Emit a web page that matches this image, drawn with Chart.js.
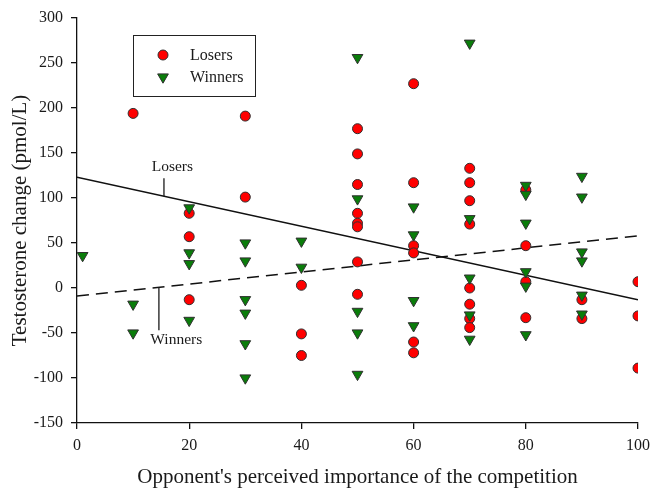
<!DOCTYPE html>
<html>
<head>
<meta charset="utf-8">
<script src="https://cdn.jsdelivr.net/npm/chart.js@4/dist/chart.umd.min.js"></script>
<style>
  html, body { margin: 0; padding: 0; background: #fff; }
  #wrap { width: 660px; height: 490px; }
</style>
</head>
<body>
<div id="wrap"><canvas id="c" width="660" height="490"></canvas></div>
<script>
// ── data ──
const loserX = [10, 20, 20, 20, 30, 30, 40, 40, 40,
  50, 50, 50, 50, 50, 50, 50, 50,
  60, 60, 60, 60, 60, 60,
  70, 70, 70, 70, 70, 70, 70, 70,
  80, 80, 80, 80, 90, 90, 100, 100, 100];
const loserY = [194, 83, 57, -13, 191, 101, 3, -51, -75,
  177, 149, 115, 83, 72, 68, 29, -7,
  227, 117, 47, 39, -60, -72,
  133, 117, 97, 71, 0, -18, -34, -44,
  109, 47, 7, -33, -13, -34, 7, -31, -89];

const winnerX = [1, 10, 10, 20, 20, 20, 20,
  30, 30, 30, 30, 30, 30, 40, 40,
  50, 50, 50, 50, 50, 60, 60, 60, 60,
  70, 70, 70, 70, 70,
  80, 80, 80, 80, 80, 80,
  90, 90, 90, 90, 90, 90];
const winnerY = [36, -18, -50, 89, 39, 27, -36,
  50, 30, -13, -28, -62, -100, 52, 23,
  256, 99, -26, -50, -96, 90, 59, -14, -42,
  272, 77, 11, -30, -57,
  114, 104, 72, 18, 2, -52,
  124, 101, 40, 30, -8, -29];

// regression line end points (x = 0 and x = 100)
const fitX = [0, 100];
const loserFit = [123, -13];
const winnerFit = [-9, 58];

// in-plot line labels: text, label position, leader x, leader y range
const lineLabels = ["Losers", "Winners"];
const labelX = [17, 17.7];
const labelY = [134, -58];
const leaderX = [15.5, 14.6];
const leaderFrom = [122, 1];
const leaderTo = [102, -47];

const seriesNames = ["Losers", "Winners"];

const xTicks = [0, 20, 40, 60, 80, 100];
const yTicks = [-150, -100, -50, 0, 50, 100, 150, 200, 250, 300];

const serif = "'Liberation Serif', 'Times New Roman', serif";
const red = "#ff0000";
const green = "#0a7d0a";
const edge = "#303030";

const pts = (xs, ys) => xs.map((x, i) => ({ x, y: ys[i] }));

// legend box + line labels drawn on top of the chart
const overlay = {
  id: "overlay",
  afterDraw(chart) {
    const { ctx, scales: { x, y } } = chart;
    ctx.save();
    ctx.fillStyle = "#1a1a1a";
    ctx.strokeStyle = "#1a1a1a";
    ctx.lineWidth = 1.3;
    ctx.font = "15.5px " + serif;
    ctx.textAlign = "center";
    ctx.textBaseline = "middle";
    lineLabels.forEach((t, i) => {
      ctx.fillText(t, x.getPixelForValue(labelX[i]), y.getPixelForValue(labelY[i]));
      ctx.beginPath();
      ctx.moveTo(x.getPixelForValue(leaderX[i]), y.getPixelForValue(leaderFrom[i]));
      ctx.lineTo(x.getPixelForValue(leaderX[i]), y.getPixelForValue(leaderTo[i]));
      ctx.stroke();
    });

    // legend
    ctx.lineWidth = 1;
    ctx.strokeStyle = "#222";
    ctx.strokeRect(133.5, 35.5, 122, 61);
    ctx.textAlign = "left";
    ctx.font = "16px " + serif;
    const rows = [55, 77];
    seriesNames.forEach((name, i) => {
      const ds = chart.data.datasets[i];
      ctx.fillStyle = ds.backgroundColor;
      ctx.strokeStyle = edge;
      ctx.lineWidth = 1;
      Chart.helpers.drawPoint(ctx, {
        pointStyle: ds.pointStyle,
        rotation: ds.rotation || 0,
        radius: ds.pointRadius,
        borderWidth: 1,
      }, 163, rows[i]);
      ctx.fillStyle = "#1a1a1a";
      ctx.fillText(name, 190, rows[i] + 1);
    });
    ctx.restore();
  },
};

new Chart(document.getElementById("c"), {
  type: "scatter",
  data: {
    datasets: [
      {
        label: seriesNames[0],
        data: pts(loserX, loserY),
        pointStyle: "circle",
        pointRadius: 5,
        backgroundColor: red,
        borderColor: edge,
        borderWidth: 1,
        order: 1,
      },
      {
        label: seriesNames[1],
        data: pts(winnerX, winnerY),
        pointStyle: "triangle",
        rotation: 180,
        pointRadius: 6.2,
        backgroundColor: green,
        borderColor: edge,
        borderWidth: 1,
        order: 0,
      },
      {
        label: "Losers fit",
        data: pts(fitX, loserFit),
        showLine: true,
        pointRadius: 0,
        borderColor: "#111",
        borderWidth: 1.5,
        order: 2,
      },
      {
        label: "Winners fit",
        data: pts(fitX, winnerFit),
        showLine: true,
        pointRadius: 0,
        borderColor: "#111",
        borderWidth: 1.5,
        borderDash: [12, 7],
        order: 2,
      },
    ],
  },
  options: {
    responsive: false,
    animation: false,
    layout: { padding: { left: 0, top: 18, right: 22, bottom: 0 } },
    plugins: {
      legend: { display: false },
      tooltip: { enabled: false },
    },
    scales: {
      x: {
        type: "linear",
        min: xTicks[0],
        max: xTicks[xTicks.length - 1],
        afterFit: (s) => { s.height = 67; },
        afterBuildTicks: (s) => { s.ticks = xTicks.map((v) => ({ value: v })); },
        border: { display: true, color: "#111", width: 1.3 },
        grid: { drawOnChartArea: false, drawTicks: true, tickLength: 6, color: "#111", lineWidth: 1.3 },
        ticks: { color: "#1a1a1a", padding: 7, maxRotation: 0, font: { family: serif, size: 16 } },
        title: {
          display: true,
          text: "Opponent's perceived importance of the competition",
          color: "#1a1a1a",
          font: { family: serif, size: 21 },
          padding: { top: 0, bottom: 0 },
        },
      },
      y: {
        type: "linear",
        min: yTicks[0],
        max: yTicks[yTicks.length - 1],
        afterFit: (s) => { s.width = 77; },
        afterBuildTicks: (s) => { s.ticks = yTicks.map((v) => ({ value: v })); },
        border: { display: true, color: "#111", width: 1.3 },
        grid: { drawOnChartArea: false, drawTicks: true, tickLength: 6, color: "#111", lineWidth: 1.3 },
        ticks: { color: "#1a1a1a", padding: 8, font: { family: serif, size: 16 } },
        title: {
          display: true,
          text: "Testosterone change (pmol/L)",
          color: "#1a1a1a",
          font: { family: serif, size: 21 },
          padding: { top: 8, bottom: 0 },
        },
      },
    },
  },
  plugins: [overlay],
});
</script>
</body>
</html>
